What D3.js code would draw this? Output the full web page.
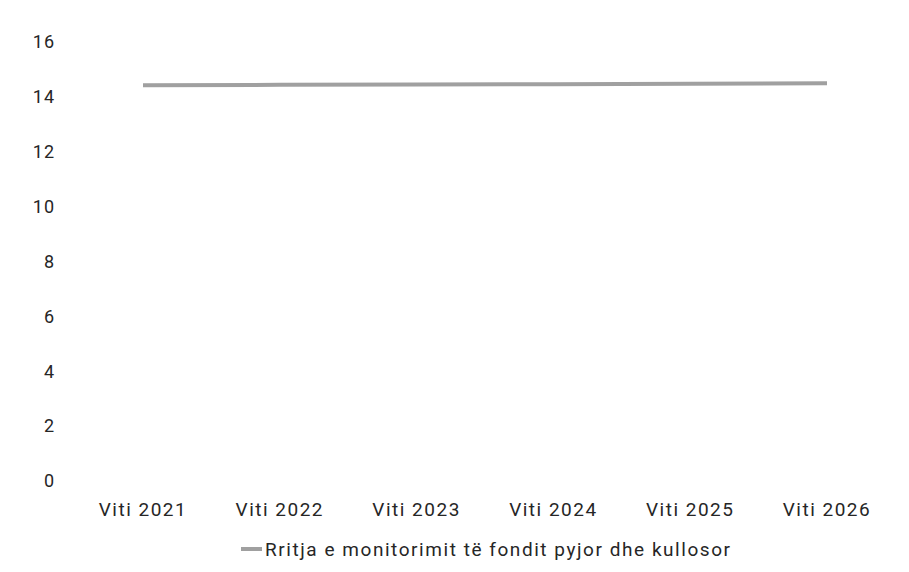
<!DOCTYPE html>
<html><head><meta charset="utf-8">
<script src="https://cdn.jsdelivr.net/npm/d3@7"></script>
<style>body{margin:0;background:#fff}svg{display:block}</style>
</head><body><svg id="c" width="909" height="572"></svg>
<script>
const categories = ["Viti 2021","Viti 2022","Viti 2023","Viti 2024","Viti 2025","Viti 2026"];
const values = [14.42,14.44,14.45,14.46,14.48,14.5];
const yTicks = [0,2,4,6,8,10,12,14,16];
const seriesName = "Rritja e monitorimit të fondit pyjor dhe kullosor";

const svg = d3.select("#c");
const font = "Roboto, 'Open Sans', sans-serif";
const x = d3.scalePoint().domain(categories).range([143, 827]);
const y = d3.scaleLinear().domain([0,16]).range([481, 42]);

svg.append("g").selectAll("text").data(yTicks).join("text")
  .attr("x", 55).attr("y", d => y(d)).attr("dy", "0.35em")
  .attr("text-anchor", "end").attr("font-family", font).attr("font-size", 18)
  .attr("letter-spacing", 1).attr("fill", "#262626").text(d => d);

svg.append("g").selectAll("text").data(categories).join("text")
  .attr("x", d => x(d)).attr("y", 509).attr("dy", "0.35em").attr("text-anchor", "middle")
  .attr("font-family", font).attr("font-size", 19).attr("letter-spacing", 1.5)
  .attr("fill", "#262626").text(d => d);

const line = d3.line().x((d,i) => x(categories[i])).y(d => y(d));
svg.append("path").datum(values).attr("d", line).attr("fill", "none")
  .attr("stroke", "#a0a0a0").attr("stroke-width", 4);

const lg = svg.append("g");
lg.append("line").attr("x1", 241).attr("x2", 262).attr("y1", 549).attr("y2", 549)
  .attr("stroke", "#a0a0a0").attr("stroke-width", 4);
lg.append("text").attr("x", 265).attr("y", 549).attr("dy", "0.35em")
  .attr("font-family", font).attr("font-size", 19).attr("letter-spacing", 1.55)
  .attr("fill", "#262626").text(seriesName);
</script></body></html>
